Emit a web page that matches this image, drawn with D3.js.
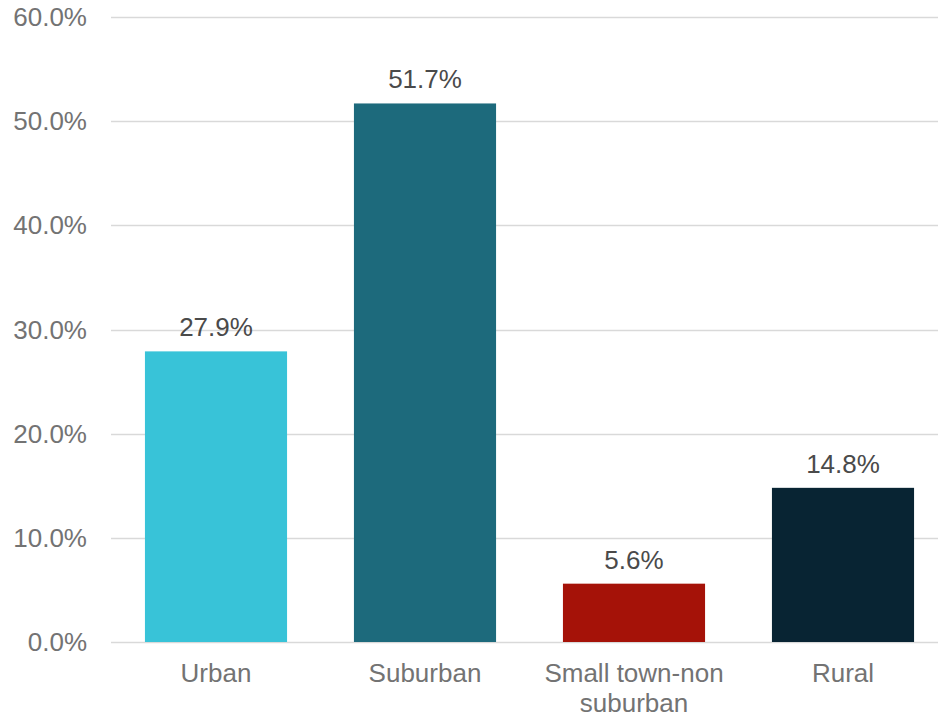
<!DOCTYPE html>
<html>
<head>
<meta charset="utf-8">
<script src="https://cdn.jsdelivr.net/npm/d3@7"></script>
<style>
  body { margin: 0; background: #fff; }
  svg { display: block; font-family: "Liberation Sans", Arial, sans-serif; }
</style>
</head>
<body>
<svg id="chart" width="938" height="716"></svg>
<script>
var categories = ["Urban", "Suburban", "Small town-non suburban", "Rural"];
var labelLines = [["Urban"], ["Suburban"], ["Small town-non", "suburban"], ["Rural"]];
var values = [27.9, 51.7, 5.6, 14.8];
var colors = ["#38c3d8", "#1d6a7c", "#a51208", "#082433"];
var yTicks = [0, 10, 20, 30, 40, 50, 60];

var svg = d3.select("#chart");
var axisColor = "#737373";
var valueColor = "#4a4a4a";
var fontSize = 26;

var x = d3.scaleBand()
  .domain(categories)
  .range([111.5, 947.5])
  .paddingInner(0.32)
  .paddingOuter(0.16);

var y = d3.scaleLinear()
  .domain([0, 60])
  .range([642, 17]);

// gridlines
svg.append("g").selectAll("line")
  .data(yTicks)
  .enter().append("line")
  .attr("x1", 111)
  .attr("x2", 938)
  .attr("y1", function(d) { return Math.round(y(d)) + 0.5; })
  .attr("y2", function(d) { return Math.round(y(d)) + 0.5; })
  .attr("stroke", "#d9d9d9")
  .attr("stroke-width", 1.3);

// y labels
svg.append("g").selectAll("text")
  .data(yTicks)
  .enter().append("text")
  .attr("x", 87)
  .attr("y", function(d) { return y(d) + 9; })
  .attr("text-anchor", "end")
  .attr("font-size", fontSize)
  .attr("fill", axisColor)
  .text(function(d) { return d.toFixed(1) + "%"; });

// bars
svg.append("g").selectAll("rect")
  .data(values)
  .enter().append("rect")
  .attr("x", function(d, i) { return x(categories[i]); })
  .attr("y", function(d) { return y(d); })
  .attr("width", x.bandwidth())
  .attr("height", function(d) { return y(0) - y(d); })
  .attr("fill", function(d, i) { return colors[i]; });

// value labels
svg.append("g").selectAll("text")
  .data(values)
  .enter().append("text")
  .attr("x", function(d, i) { return x(categories[i]) + x.bandwidth() / 2; })
  .attr("y", function(d) { return y(d) - 15; })
  .attr("text-anchor", "middle")
  .attr("font-size", fontSize)
  .attr("fill", valueColor)
  .text(function(d) { return d.toFixed(1) + "%"; });

// category labels
var cat = svg.append("g").selectAll("text")
  .data(labelLines)
  .enter().append("text")
  .attr("text-anchor", "middle")
  .attr("font-size", fontSize)
  .attr("fill", axisColor);

cat.selectAll("tspan")
  .data(function(d, i) { return d.map(function(t) { return { t: t, i: i }; }); })
  .enter().append("tspan")
  .attr("x", function(d) { return x(categories[d.i]) + x.bandwidth() / 2; })
  .attr("y", function(d, j) { return 682 + j * 30; })
  .text(function(d) { return d.t; });
</script>
</body>
</html>
